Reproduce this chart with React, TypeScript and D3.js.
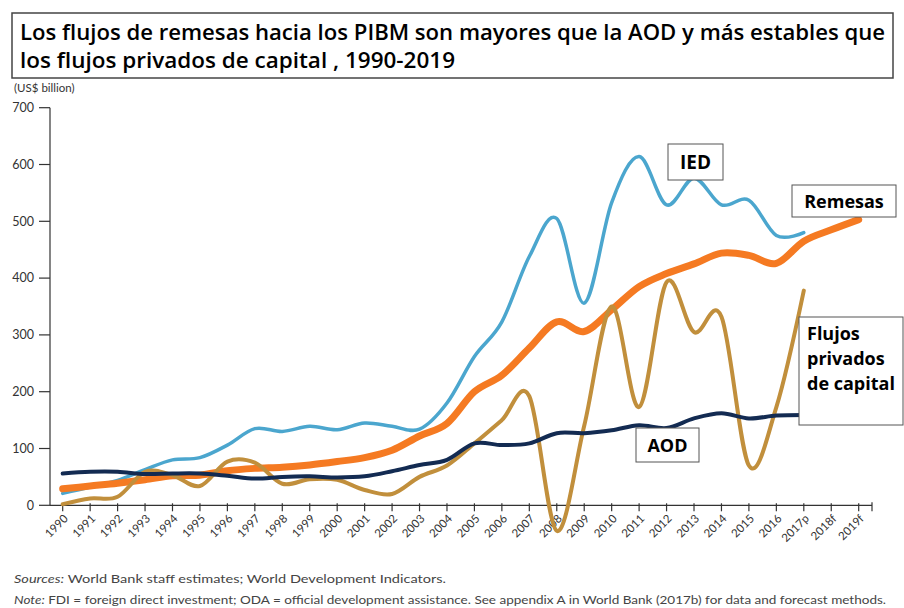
import React from "react";
import * as d3 from "d3";

const years = [
  "1990","1991","1992","1993","1994","1995","1996","1997","1998","1999",
  "2000","2001","2002","2003","2004","2005","2006","2007","2008","2009",
  "2010","2011","2012","2013","2014","2015","2016","2017p","2018f","2019f",
];

const ied = [21,32,44,63,80,84,106,135,130,139,133,145,139,134,180,262,323,438,505,356,533,614,529,576,529,537,475,480];
const remesas = [29,34,39,45,52,53,61,65,67,71,77,84,97,122,144,200,229,277,323,306,344,385,408,425,444,440,426,465,485,503];
const flujos = [2,12,15,59,53,34,77,75,38,46,45,27,20,50,70,109,150,192,-45,140,350,173,393,305,332,70,173,378];
const aod = [56,59,59,55,56,56,52,47,50,51,49,51,60,71,80,109,106,109,127,127,132,141,136,153,162,153,158,159];

const yTicks = [0, 100, 200, 300, 400, 500, 600, 700];

const W = 904;
const H = 608;

export default function App() {
  const x = d3.scalePoint<string>().domain(years).range([62.7, 858.7]);
  const y = d3.scaleLinear().domain([0, 700]).range([505.3, 107.7]);
  const axisLeft = 50;
  const axisRight = 872;
  const y0 = y(0);

  const mk = (vals: number[]) =>
    d3
      .line<number>()
      .x((_, i) => x(years[i]) as number)
      .y((v) => y(v))
      .curve(d3.curveCatmullRom.alpha(0))(vals) || "";

  const axisFont = "Lato, 'DejaVu Sans', sans-serif";
  const labelFont = "'Open Sans', 'DejaVu Sans', sans-serif";

  return (
    <svg width={W} height={H} style={{ position: "absolute", left: 0, top: 0, background: "#fff" }}>
      <rect x={0} y={0} width={W} height={H} fill="#fff" />
      {/* Title box */}
      <rect x={12} y={13} width={881} height={65} fill="#fff" stroke="#444" strokeWidth={1.5} />
      <text x={20} y={40} fontFamily={labelFont} fontWeight={600} fontSize={21} fill="#000" textLength={865} lengthAdjust="spacingAndGlyphs">
        Los flujos de remesas hacia los PIBM son mayores que la AOD y más estables que
      </text>
      <text x={20} y={68} fontFamily={labelFont} fontWeight={600} fontSize={21} fill="#000" textLength={435} lengthAdjust="spacingAndGlyphs">
        los flujos privados de capital , 1990-2019
      </text>
      <text x={14} y={92} fontFamily={axisFont} fontSize={11.5} fill="#333">(US$ billion)</text>

      {/* Y axis */}
      <line x1={axisLeft} x2={axisLeft} y1={y(700)} y2={y0} stroke="#333" strokeWidth={1.2} />
      {yTicks.map((t) => (
        <g key={t}>
          <line x1={39} x2={axisLeft} y1={y(t)} y2={y(t)} stroke="#333" strokeWidth={1.2} />
          <text x={34} y={y(t)} dy="0.35em" textAnchor="end" fontFamily={axisFont} fontSize={12.5} fill="#333">
            {t}
          </text>
        </g>
      ))}

      {/* X axis */}
      <line x1={axisLeft} x2={axisRight} y1={y0} y2={y0} stroke="#333" strokeWidth={1.2} />
      <line x1={axisRight} x2={axisRight} y1={y0 - 3} y2={y0 + 6} stroke="#333" strokeWidth={1.2} />
      {years.map((yr) => {
        const px = x(yr) as number;
        return (
          <g key={yr}>
            <line x1={px} x2={px} y1={y0 - 2} y2={y0 + 6} stroke="#333" strokeWidth={1.2} />
            <text
              transform={`translate(${px + 6},${y0 + 14}) rotate(-45)`}
              textAnchor="end"
              fontFamily={axisFont}
              fontSize={11.5}
              fill="#333"
            >
              {yr}
            </text>
          </g>
        );
      })}

      {/* Lines */}
      <path d={mk(ied)} fill="none" stroke="#4BA6CE" strokeWidth={3.5} strokeLinejoin="round" strokeLinecap="round" />
      <path d={mk(remesas)} fill="none" stroke="#F57A22" strokeWidth={7} strokeLinejoin="round" strokeLinecap="round" />
      <path d={mk(flujos)} fill="none" stroke="#C18F3C" strokeWidth={4} strokeLinejoin="round" strokeLinecap="round" />
      <path d={mk(aod)} fill="none" stroke="#132B52" strokeWidth={4} strokeLinejoin="round" strokeLinecap="round" />

      {/* Labels */}
      <rect x={668} y={144} width={55} height={36} fill="#fff" stroke="#555" strokeWidth={1} />
      <text x={695.5} y={169} textAnchor="middle" fontFamily={labelFont} fontWeight="bold" fontSize={19} fill="#000">IED</text>

      <rect x={792} y={185} width={104} height={32} fill="#fff" stroke="#555" strokeWidth={1} />
      <text x={844} y={208} textAnchor="middle" fontFamily={labelFont} fontWeight="bold" fontSize={18} fill="#000">Remesas</text>

      <rect x={799} y={317} width={104} height={108} fill="#fff" stroke="#555" strokeWidth={1} />
      <text fontFamily={labelFont} fontWeight="bold" fontSize={18} fill="#000">
        <tspan x={807} y={340}>Flujos</tspan>
        <tspan x={807} y={365}>privados</tspan>
        <tspan x={807} y={390}>de capital</tspan>
      </text>

      <rect x={636} y={428} width={63} height={34} fill="#fff" stroke="#555" strokeWidth={1} />
      <text x={667.5} y={451.5} textAnchor="middle" fontFamily={labelFont} fontWeight="bold" fontSize={18} fill="#000">AOD</text>

      {/* Footnotes */}
      <text x={14} y={583} fontFamily={axisFont} fontSize={11} fill="#444" textLength={432} lengthAdjust="spacingAndGlyphs">
        <tspan fontStyle="italic">Sources:</tspan> World Bank staff estimates; World Development Indicators.
      </text>
      <text x={14} y={604} fontFamily={axisFont} fontSize={11} fill="#444" textLength={872} lengthAdjust="spacingAndGlyphs">
        <tspan fontStyle="italic">Note:</tspan> FDI = foreign direct investment; ODA = official development assistance. See appendix A in World Bank (2017b) for data and forecast methods.
      </text>
    </svg>
  );
}
